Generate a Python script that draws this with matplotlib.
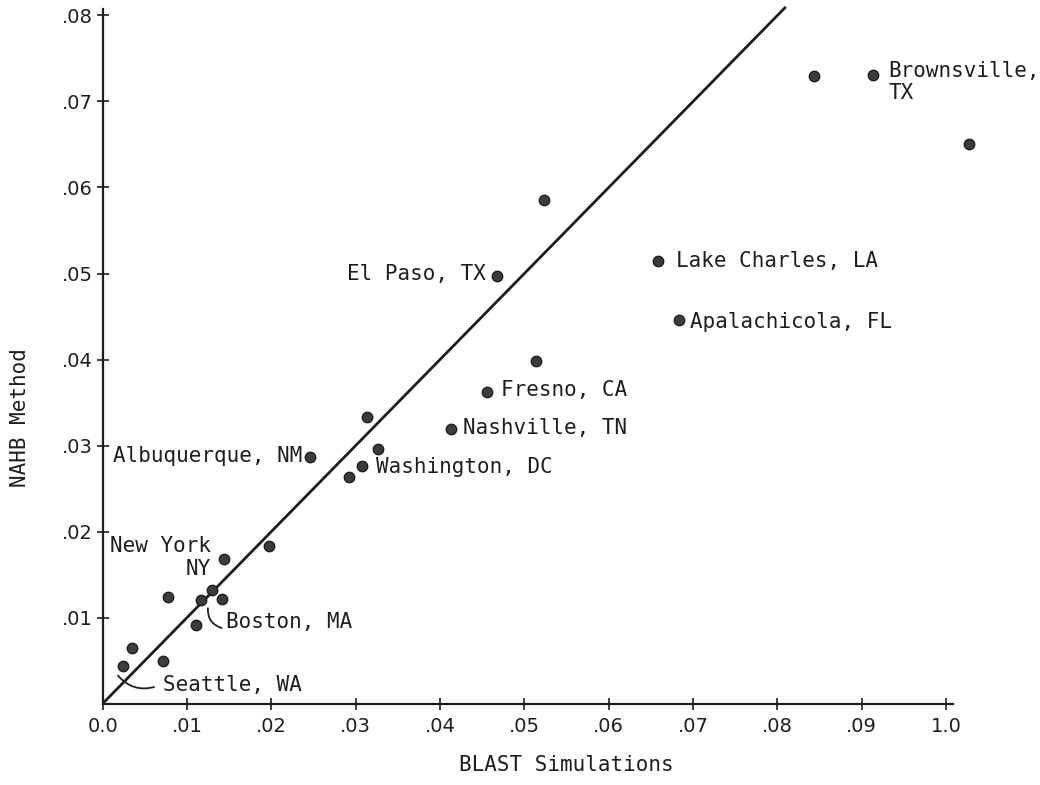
import numpy as np
import matplotlib
matplotlib.use("Agg")
import matplotlib.pyplot as plt

# BLAST vs NAHB cooling/heating estimates
blast = [0.0024, 0.0035, 0.0072, 0.0077, 0.0111, 0.0117, 0.0130, 0.0142, 0.0144,
         0.0197, 0.0246, 0.0292, 0.0308, 0.0313, 0.0327, 0.0413, 0.0456, 0.0468,
         0.0514, 0.0523, 0.0658, 0.0683, 0.0843, 0.0913, 0.1027]
nahb = [0.0044, 0.0064, 0.0049, 0.0124, 0.0091, 0.0120, 0.0132, 0.0122, 0.0168,
        0.0183, 0.0287, 0.0263, 0.0276, 0.0333, 0.0296, 0.0319, 0.0362, 0.0497,
        0.0398, 0.0585, 0.0514, 0.0446, 0.0730, 0.0731, 0.0650]

x_ticks = [0.0, 0.01, 0.02, 0.03, 0.04, 0.05, 0.06, 0.07, 0.08, 0.09, 0.10]
x_tick_labels = ["0.0", ".01", ".02", ".03", ".04", ".05", ".06", ".07", ".08", ".09", "1.0"]
y_ticks = [0.01, 0.02, 0.03, 0.04, 0.05, 0.06, 0.07, 0.08]
y_tick_labels = [".01", ".02", ".03", ".04", ".05", ".06", ".07", ".08"]

line_end = 0.081  # 1:1 line

# city labels: text, x, y, horizontal alignment
labels = [
    ("Brownsville,\nTX", 0.0932, 0.0723, "left"),
    ("El Paso, TX", 0.0454, 0.0499, "right"),
    ("Lake Charles, LA", 0.0680, 0.0515, "left"),
    ("Apalachicola, FL", 0.0696, 0.0444, "left"),
    ("Fresno, CA", 0.0472, 0.0364, "left"),
    ("Nashville, TN", 0.0427, 0.0320, "left"),
    ("Washington, DC", 0.0324, 0.0275, "left"),
    ("Albuquerque, NM", 0.0237, 0.0288, "right"),
    ("New York\nNY", 0.0128, 0.0170, "right"),
    ("Boston, MA", 0.0146, 0.0095, "left"),
    ("Seattle, WA", 0.0072, 0.00215, "left"),
]

mono = "DejaVu Sans Mono"
ink = "#1e1e1e"

fig = plt.figure(figsize=(10.4, 7.85), dpi=100)
ax = fig.add_axes([0.0988, 0.1038, 0.8919, 0.8929])
ax.set_xlim(0, 0.11)
ax.set_ylim(0, 0.0815)

ax.plot([0, line_end], [0, line_end], color=ink, lw=2.0, solid_capstyle="butt")
ax.plot(blast, nahb, "o", ms=7.5, color="#3c3c3c", mec="#1e1e1e", mew=1.0,
        clip_on=False, zorder=3)

for txt, x, y, ha in labels:
    ax.text(x, y, txt, ha=ha, va="center", fontsize=15, family=mono, color=ink,
            multialignment=ha, linespacing=1.15, clip_on=False)

# leader curves for Boston and Seattle
ax.annotate("", xy=(0.0125, 0.0114), xytext=(0.0144, 0.0087),
            arrowprops=dict(arrowstyle="-", color=ink, lw=1.3,
                            connectionstyle="arc3,rad=-0.45"))
ax.annotate("", xy=(0.0016, 0.0035), xytext=(0.0064, 0.0020),
            arrowprops=dict(arrowstyle="-", color=ink, lw=1.3,
                            connectionstyle="arc3,rad=-0.35"))

for side in ["top", "right"]:
    ax.spines[side].set_visible(False)
ax.spines["left"].set_bounds(0, 0.0808)
ax.spines["bottom"].set_bounds(0, 0.1008)
for side in ["left", "bottom"]:
    ax.spines[side].set_linewidth(1.6)
    ax.spines[side].set_color(ink)

ax.set_xticks(x_ticks)
ax.set_xticklabels(x_tick_labels)
ax.set_yticks(y_ticks)
ax.set_yticklabels(y_tick_labels)
ax.tick_params(direction="inout", length=8, width=1.2, color=ink,
               labelsize=14, labelcolor=ink, pad=3)
ax.tick_params(axis="x", pad=6)

fig.text(0.545, 0.025, "BLAST Simulations", ha="center", va="center",
         fontsize=15, family=mono, color=ink)
fig.text(0.019, 0.468, "NAHB Method", ha="center", va="center", rotation=90,
         fontsize=15, family=mono, color=ink)

fig.savefig("out.png", dpi=100, facecolor="white")
